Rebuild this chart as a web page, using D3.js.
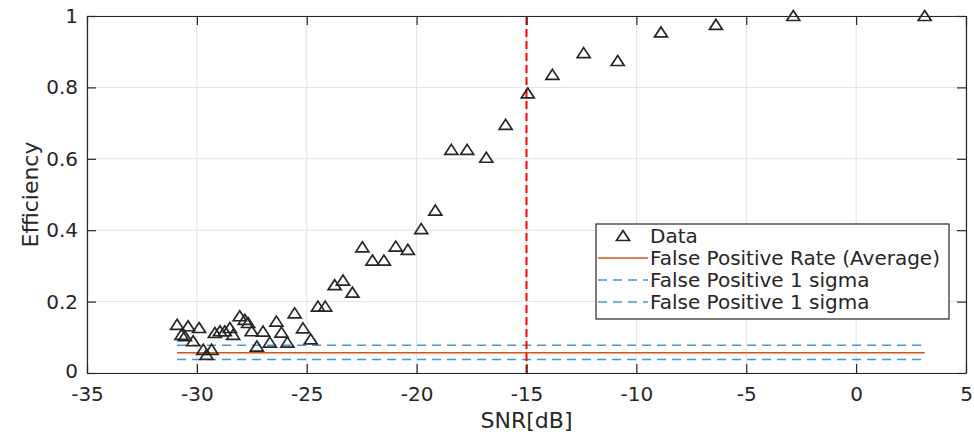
<!DOCTYPE html>
<html>
<head>
<meta charset="utf-8">
<script src="https://cdn.jsdelivr.net/npm/d3@7"></script>
<style>
  body { margin: 0; background: #fff; }
  text { font-family: "DejaVu Sans", sans-serif; fill: #262626; }
</style>
</head>
<body>
<svg id="chart"></svg>
<script>
let width = 974;
let height = 436;
let margin = {top: 16, right: 8, bottom: 63, left: 87};

// measured points (SNR in dB, efficiency)
let snr = [-30.90, -30.70, -30.55, -30.40, -30.17, -29.90, -29.71, -29.56, -29.33, -29.18,
    -28.95, -28.73, -28.50, -28.35, -28.05, -27.82, -27.67, -27.51, -27.27, -26.99,
    -26.68, -26.38, -26.15, -25.88, -25.55, -25.17, -24.82, -24.49, -24.16, -23.73,
    -23.35, -22.92, -22.47, -22.01, -21.49, -20.95, -20.40, -19.79, -19.15, -18.42,
    -17.70, -16.83, -15.95, -14.94, -13.82, -12.40, -10.85, -8.88, -6.38, -2.86, 3.12];
let efficiency = [0.135, 0.107, 0.103, 0.131, 0.089, 0.126, 0.065, 0.051, 0.065, 0.112,
    0.117, 0.117, 0.126, 0.107, 0.159, 0.149, 0.140, 0.117, 0.074, 0.116,
    0.085, 0.144, 0.113, 0.085, 0.167, 0.125, 0.094, 0.186, 0.186, 0.246,
    0.259, 0.225, 0.352, 0.315, 0.315, 0.354, 0.345, 0.403, 0.455, 0.625,
    0.625, 0.603, 0.695, 0.783, 0.835, 0.896, 0.874, 0.954, 0.975, 1.0, 1.0];

// false positive levels
let fpAverage = 0.057;
let fpSigma = [0.078, 0.038];
let thresholdSnr = -15;

let xTicks = [-35, -30, -25, -20, -15, -10, -5, 0, 5];
let yTicks = [0, 0.2, 0.4, 0.6, 0.8, 1];
let legendLabels = ["Data", "False Positive Rate (Average)", "False Positive 1 sigma", "False Positive 1 sigma"];

let axisColor = "#262626";
let orange = "#D95319";
let lightBlue = "#3f9ad3";

let svg = d3.select("#chart")
    .attr("width", width)
    .attr("height", height);

let x = d3.scaleLinear().domain([-35, 5]).range([margin.left, width - margin.right]);
let y = d3.scaleLinear().domain([0, 1]).range([height - margin.bottom, margin.top]);

// grid
let grid = svg.append("g");
grid.selectAll(".gx").data(xTicks).enter().append("line")
    .attr("x1", d => x(d)).attr("x2", d => x(d))
    .attr("y1", y(0)).attr("y2", y(1))
    .attr("stroke", "#e3e3e3").attr("stroke-width", 1);
grid.selectAll(".gy").data(yTicks).enter().append("line")
    .attr("x1", x(-35)).attr("x2", x(5))
    .attr("y1", d => y(d)).attr("y2", d => y(d))
    .attr("stroke", "#e3e3e3").attr("stroke-width", 1);

// false positive lines span the data range
let xExtent = d3.extent(snr);
svg.append("line")
    .attr("x1", x(xExtent[0])).attr("x2", x(xExtent[1]))
    .attr("y1", y(fpAverage)).attr("y2", y(fpAverage))
    .attr("stroke", orange).attr("stroke-width", 1.5);
svg.selectAll(".sigma").data(fpSigma).enter().append("line")
    .attr("x1", x(xExtent[0])).attr("x2", x(xExtent[1]))
    .attr("y1", d => y(d)).attr("y2", d => y(d))
    .attr("stroke", lightBlue).attr("stroke-width", 1.5)
    .attr("stroke-dasharray", "9,6");

// threshold line
svg.append("line")
    .attr("x1", x(thresholdSnr)).attr("x2", x(thresholdSnr))
    .attr("y1", y(0)).attr("y2", y(1))
    .attr("stroke", "#ff0000").attr("stroke-width", 2)
    .attr("stroke-dasharray", "8,4");

// triangle marker, a bit wider than tall like matlab's '^'
let tri = "M0,-5.5L6.5,4.5L-6.5,4.5Z";

let data = snr.map((s, i) => ({s: s, e: efficiency[i]}));
svg.append("g").selectAll("path")
    .data(data)
    .enter().append("path")
    .attr("d", tri)
    .attr("transform", d => "translate(" + x(d.s) + "," + y(d.e) + ")")
    .attr("fill", "none")
    .attr("stroke", axisColor)
    .attr("stroke-width", 1.7);

// axes, ticks pointing inward on all four sides
// plain hyphen for negatives, like the original
let fmt = d => String(+d.toFixed(2));
let axBottom = svg.append("g")
    .attr("transform", "translate(0," + y(0) + ")")
    .call(d3.axisBottom(x).tickValues(xTicks).tickSizeInner(-9).tickSizeOuter(0).tickPadding(14).tickFormat(fmt));
let axLeft = svg.append("g")
    .attr("transform", "translate(" + x(-35) + ",0)")
    .call(d3.axisLeft(y).tickValues(yTicks).tickSizeInner(-9).tickSizeOuter(0).tickPadding(9).tickFormat(fmt));
let axTop = svg.append("g")
    .attr("transform", "translate(0," + y(1) + ")")
    .call(d3.axisTop(x).tickValues(xTicks).tickSizeInner(-9).tickSizeOuter(0).tickFormat(""));
let axRight = svg.append("g")
    .attr("transform", "translate(" + x(5) + ",0)")
    .call(d3.axisRight(y).tickValues(yTicks).tickSizeInner(-9).tickSizeOuter(0).tickFormat(""));

[axBottom, axLeft, axTop, axRight].forEach(g => {
    g.selectAll("path, line").attr("stroke", axisColor).attr("stroke-width", 1.2);
    g.selectAll("text").attr("font-size", 20).attr("fill", axisColor)
        .style("font-family", "'DejaVu Sans', sans-serif");
});
// the zero label sits a touch above the axis line in the original
axLeft.selectAll(".tick").filter(d => d === 0).select("text").attr("dy", "0.2em");

// axis titles
svg.append("text")
    .attr("x", x(-15)).attr("y", 428)
    .attr("text-anchor", "middle")
    .attr("font-size", 22)
    .text("SNR[dB]");
svg.append("text")
    .attr("transform", "translate(30," + y(0.5) + ") rotate(-90)")
    .attr("text-anchor", "middle")
    .attr("dominant-baseline", "central")
    .attr("font-size", 22)
    .text("Efficiency");

// legend
let lg = svg.append("g").attr("transform", "translate(596,224)");
lg.append("rect")
    .attr("width", 353).attr("height", 95)
    .attr("fill", "#fff").attr("stroke", axisColor).attr("stroke-width", 1.2);

let rows = lg.selectAll(".row").data(legendLabels).enter().append("g")
    .attr("transform", (d, i) => "translate(0," + (12 + i * 22) + ")");
rows.append("text")
    .attr("x", 54).attr("y", 0)
    .attr("dominant-baseline", "central")
    .attr("font-size", 20)
    .text(d => d);

rows.filter((d, i) => i === 0).append("path")
    .attr("d", tri)
    .attr("transform", "translate(27,0)")
    .attr("fill", "none").attr("stroke", axisColor).attr("stroke-width", 1.7);
rows.filter((d, i) => i === 1).append("line")
    .attr("x1", 2).attr("x2", 52)
    .attr("stroke", orange).attr("stroke-width", 1.5);
rows.filter((d, i) => i > 1).append("line")
    .attr("x1", 2).attr("x2", 52)
    .attr("stroke", lightBlue).attr("stroke-width", 1.5)
    .attr("stroke-dasharray", "9,6");
</script>
</body>
</html>
